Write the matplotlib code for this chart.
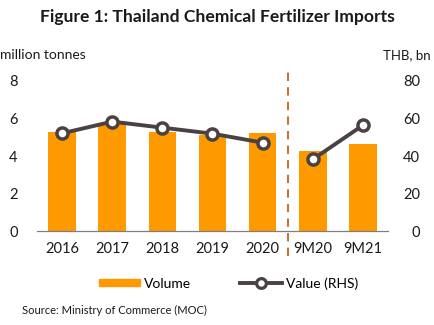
import matplotlib
matplotlib.use("Agg")
import matplotlib.pyplot as plt
from matplotlib.lines import Line2D
from matplotlib.patches import Patch

plt.rcParams['font.family'] = ['Lato', 'DejaVu Sans']

periods = ["2016", "2017", "2018", "2019", "2020", "9M20", "9M21"]
volume = [5.28, 5.78, 5.28, 5.12, 5.23, 4.27, 4.66]
value = [52.1, 58.3, 55.1, 51.9, 47.1, 38.2, 56.4]

bar_color = "#FF9900"
line_color = "#4A4242"
text_color = "#1a1a1a"

fig = plt.figure(figsize=(4.35, 3.25), dpi=100)
ax = fig.add_axes([0.085, 0.289, 0.807, 0.462])
ax2 = ax.twinx()

x = list(range(len(periods)))
ax.bar(x, volume, width=0.55, color=bar_color, zorder=2)

# annual and year-to-date values are drawn as separate segments
ax2.plot(x[:5], value[:5], color=line_color, lw=2.8, marker="o", ms=8,
         mfc="white", mec=line_color, mew=2.5, zorder=3)
ax2.plot(x[5:], value[5:], color=line_color, lw=2.8, marker="o", ms=8,
         mfc="white", mec=line_color, mew=2.5, zorder=3)

ax.set_xlim(-0.5, 6.5)
ax.set_ylim(0, 8)
ax2.set_ylim(0, 80)
ax.set_yticks([0, 2, 4, 6, 8])
ax2.set_yticks([0, 20, 40, 60, 80])
ax.set_xticks(x)
ax.set_xticklabels(periods)

for a in (ax, ax2):
    for s in ("top", "left", "right"):
        a.spines[s].set_visible(False)
    a.spines["bottom"].set_color("#7f7f7f")
    a.tick_params(length=0, labelsize=10.5, colors=text_color)
ax.tick_params(axis="y", pad=14)
ax.tick_params(axis="x", pad=8)
for lbl in ax2.get_yticklabels():
    lbl.set_horizontalalignment("right")
ax2.tick_params(axis="y", pad=23)

ax.plot([4.5, 4.5], [-1.35, 8.7], color="#C0773A", lw=1.5, ls=(0, (4, 3)),
        clip_on=False, zorder=4)

fig.text(0.5, 0.947, "Figure 1: Thailand Chemical Fertilizer Imports",
         ha="center", va="center", fontsize=12.6, fontweight="bold",
         color=text_color)
fig.text(0.0, 0.83, "million tonnes", ha="left", va="center", fontsize=10,
         color=text_color)
fig.text(0.99, 0.83, "THB, bn", ha="right", va="center", fontsize=9.5,
         color=text_color)

handles = [Patch(color=bar_color),
           Line2D([], [], color=line_color, lw=2.8, marker="o", ms=7,
                  mfc="white", mec=line_color, mew=2.3)]
fig.legend(handles, ["Volume", "Value (RHS)"], loc="center",
           bbox_to_anchor=(0.525, 0.128), ncol=2, frameon=False,
           fontsize=10, handlelength=3, handleheight=0.45,
           columnspacing=3.5, handletextpad=0.3)

fig.text(0.05, 0.046, "Source: Ministry of Commerce (MOC)", ha="left",
         va="center", fontsize=8, color=text_color)

fig.savefig("out.png", dpi=100)
